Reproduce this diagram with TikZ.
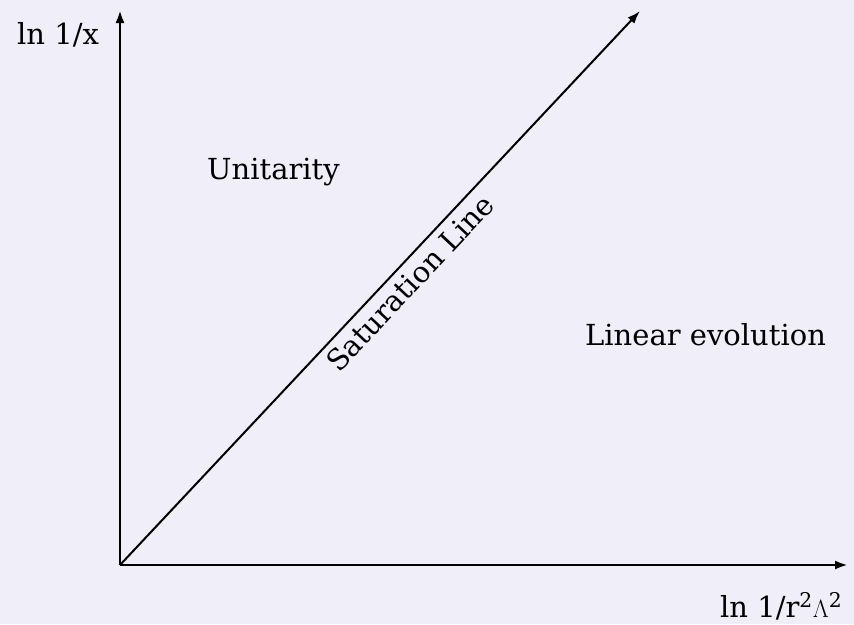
\documentclass[tikz,border=0pt]{standalone}
\usepackage{fontspec}
\setmainfont{DejaVu Serif}
\usetikzlibrary{arrows.meta, positioning}
\definecolor{bgcol}{RGB}{240,239,249}

\begin{document}
\begin{tikzpicture}[x=1pt, y=-1pt, >={Latex[length=13pt, width=9pt]},
    axis/.style={line width=2.5pt, ->},
    lbl/.style={font=\fontsize{29}{32}\selectfont, inner sep=0pt}]
  \fill[bgcol] (0,0) rectangle (854,624);
  \useasboundingbox (0,0) rectangle (854,624);
  \coordinate (o)  at (120, 565);
  \coordinate (ty) at (120, 10);
  \coordinate (tx) at (848, 565);
  \coordinate (td) at (640, 11);
  \draw[axis] (o) -- (ty);
  \draw[axis] (o) -- (tx);
  \draw[axis, line width=2pt] (o) -- node[pos=0.532, sloped, anchor=base, yshift=-29pt, lbl] (sat) {Saturation Line} (td);
  \node[lbl, anchor=base west] (ylab) at (17, 44)  {ln 1/x};
  \node[lbl, anchor=base west] (xlab) at (720, 617) {ln 1/r\textsuperscript{2}$\Lambda$\textsuperscript{2}};
  \node[lbl, anchor=base west] (uni)  at (207, 179) {Unitarity};
  \node[lbl, anchor=base west] (lin)  at (585, 345) {Linear evolution};
\end{tikzpicture}
\end{document}
